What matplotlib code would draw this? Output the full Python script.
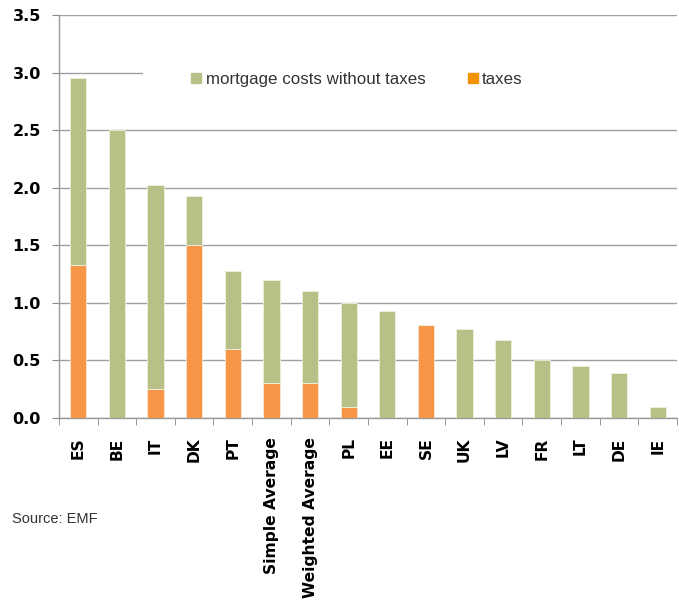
import matplotlib.pyplot as plt
import numpy as np
from matplotlib.lines import Line2D
from matplotlib.patches import Rectangle

categories = ["ES", "BE", "IT", "DK", "PT", "Simple Average", "Weighted Average",
              "PL", "EE", "SE", "UK", "LV", "FR", "LT", "DE", "IE"]
totals = [2.95, 2.50, 2.02, 1.93, 1.28, 1.20, 1.10, 1.00, 0.93, 0.81, 0.77, 0.68, 0.50, 0.45, 0.39, 0.10]
taxes = [1.33, 0.00, 0.25, 1.50, 0.60, 0.30, 0.30, 0.10, 0.00, 0.81, 0.00, 0.00, 0.00, 0.00, 0.00, 0.00]
without_taxes = [t - x for t, x in zip(totals, taxes)]
yticks = [0.0, 0.5, 1.0, 1.5, 2.0, 2.5, 3.0, 3.5]

GREEN = "#B7C087"
ORANGE = "#F79646"
sans = ["Liberation Sans", "DejaVu Sans"]

fig = plt.figure(figsize=(6.79, 6.06), dpi=100)
ax = fig.add_axes([0.0869, 0.3102, 0.9101, 0.6650])

x = np.arange(len(categories))
w = 0.42
ax.bar(x, taxes, w, color=ORANGE, edgecolor="#FCE4CF", linewidth=0.6, zorder=3)
ax.bar(x, without_taxes, w, bottom=taxes, color=GREEN, edgecolor="#EEF2DE", linewidth=0.6, zorder=3)

ax.set_xlim(-0.5, len(categories) - 0.5)
ax.set_ylim(0, 3.5)
ax.set_yticks(yticks)
ax.set_yticklabels([f"{v:.1f}" for v in yticks], fontsize=11.5, fontweight="bold")
ax.set_xticks(x)
ax.set_xticklabels(categories, rotation=90, fontsize=11.2, fontweight="bold", va="top")
ax.set_xticks(np.arange(len(categories) + 1) - 0.5, minor=True)
ax.tick_params(axis="x", which="major", length=0, pad=14)
ax.tick_params(axis="x", which="minor", length=5, color="#888888", direction="out")
ax.tick_params(axis="y", length=5, color="#888888", pad=8)

ax.set_axisbelow(True)
ax.yaxis.grid(True, color="#A0A0A0", linewidth=1.0)
for s in ["top", "right"]:
    ax.spines[s].set_visible(False)
for s in ["left", "bottom"]:
    ax.spines[s].set_color("#999999")
    ax.spines[s].set_linewidth(1.0)

# white box behind the legend hides part of the gridlines
ax.add_patch(Rectangle((0.136, 2.55), 0.864, 0.91, transform=ax.get_yaxis_transform(),
                       facecolor="white", edgecolor="none", zorder=1))

handles = [Line2D([], [], marker="s", linestyle="none", markersize=7.5, color=GREEN),
           Line2D([], [], marker="s", linestyle="none", markersize=7.5, color="#F39200")]
leg = ax.legend(handles, ["mortgage costs without taxes", "taxes"], ncol=2, frameon=False,
                loc="center left", bbox_to_anchor=(0.199, 0.8405), handlelength=0.7,
                handletextpad=0.2, columnspacing=2.45, borderpad=0,
                prop={"family": sans, "size": 12.2})
for t in leg.get_texts():
    t.set_color("#333333")

fig.text(0.0177, 0.1436, "Source: EMF", fontsize=10.5, family=sans, color="#333333", va="center")

fig.savefig("out.png", dpi=100)
